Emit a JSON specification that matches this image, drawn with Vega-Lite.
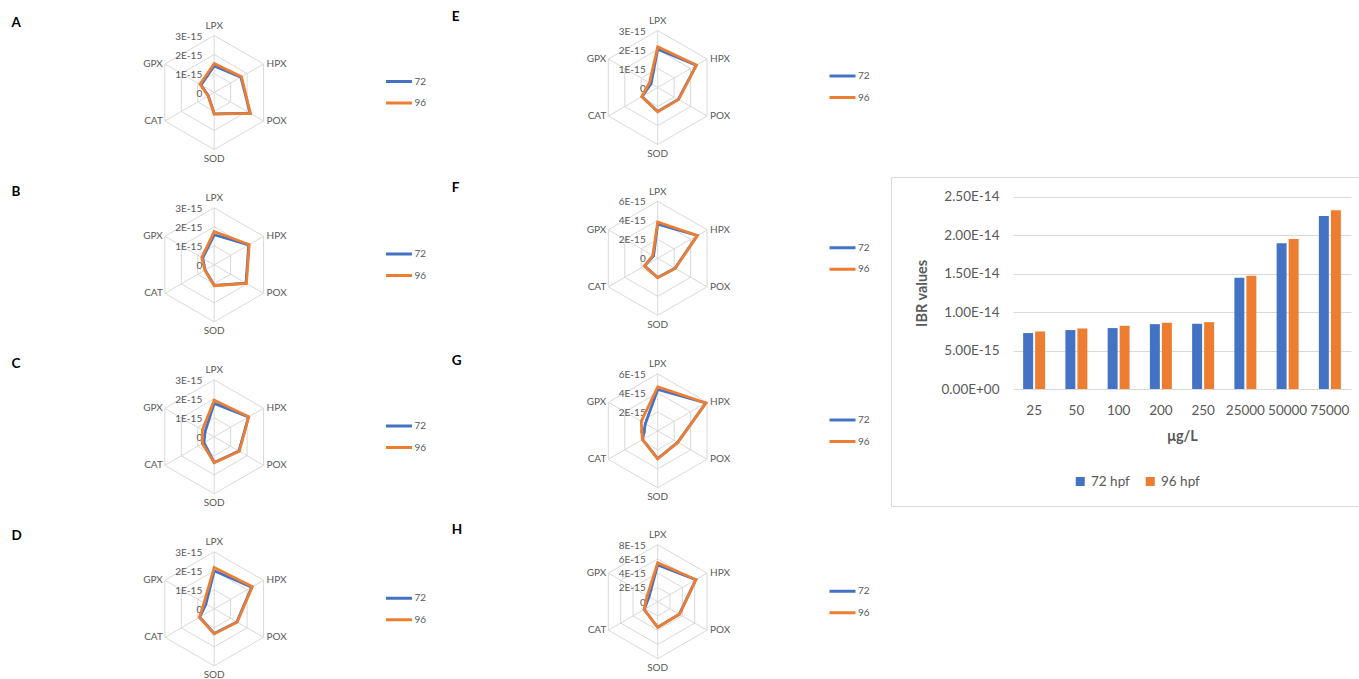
{
"$schema": "https://vega.github.io/schema/vega-lite/v6.json",
"padding": 0,
"background": "white",
"config": {"view": {"stroke": null}, "font": "Lato"},
"datasets": {
"grid": [
{"panel":"A","ring":[0,1e-15,2e-15,3e-15],"enzyme":["LPX","HPX","POX","SOD","CAT","GPX"]},
{"panel":"B","ring":[0,1e-15,2e-15,3e-15],"enzyme":["LPX","HPX","POX","SOD","CAT","GPX"]},
{"panel":"C","ring":[0,1e-15,2e-15,3e-15],"enzyme":["LPX","HPX","POX","SOD","CAT","GPX"]},
{"panel":"D","ring":[0,1e-15,2e-15,3e-15],"enzyme":["LPX","HPX","POX","SOD","CAT","GPX"]},
{"panel":"E","ring":[0,1e-15,2e-15,3e-15],"enzyme":["LPX","HPX","POX","SOD","CAT","GPX"]},
{"panel":"F","ring":[0,2e-15,4e-15,6e-15],"enzyme":["LPX","HPX","POX","SOD","CAT","GPX"]},
{"panel":"G","ring":[0,2e-15,4e-15,6e-15],"enzyme":["LPX","HPX","POX","SOD","CAT","GPX"]},
{"panel":"H","ring":[0,2e-15,4e-15,6e-15,8e-15],"enzyme":["LPX","HPX","POX","SOD","CAT","GPX"]}
],
"radar": [
{"panel":"A","series":"72","enzyme":"LPX","value":1.40e-15},{"panel":"A","series":"72","enzyme":"HPX","value":1.62e-15},{"panel":"A","series":"72","enzyme":"POX","value":2.18e-15},{"panel":"A","series":"72","enzyme":"SOD","value":1.12e-15},{"panel":"A","series":"72","enzyme":"CAT","value":0.35e-15},{"panel":"A","series":"72","enzyme":"GPX","value":0.80e-15},
{"panel":"A","series":"96","enzyme":"LPX","value":1.53e-15},{"panel":"A","series":"96","enzyme":"HPX","value":1.66e-15},{"panel":"A","series":"96","enzyme":"POX","value":2.20e-15},{"panel":"A","series":"96","enzyme":"SOD","value":1.14e-15},{"panel":"A","series":"96","enzyme":"CAT","value":0.37e-15},{"panel":"A","series":"96","enzyme":"GPX","value":0.86e-15},
{"panel":"B","series":"72","enzyme":"LPX","value":1.58e-15},{"panel":"B","series":"72","enzyme":"HPX","value":2.10e-15},{"panel":"B","series":"72","enzyme":"POX","value":1.93e-15},{"panel":"B","series":"72","enzyme":"SOD","value":1.08e-15},{"panel":"B","series":"72","enzyme":"CAT","value":0.55e-15},{"panel":"B","series":"72","enzyme":"GPX","value":0.70e-15},
{"panel":"B","series":"96","enzyme":"LPX","value":1.75e-15},{"panel":"B","series":"96","enzyme":"HPX","value":2.13e-15},{"panel":"B","series":"96","enzyme":"POX","value":1.96e-15},{"panel":"B","series":"96","enzyme":"SOD","value":1.10e-15},{"panel":"B","series":"96","enzyme":"CAT","value":0.57e-15},{"panel":"B","series":"96","enzyme":"GPX","value":0.76e-15},
{"panel":"C","series":"72","enzyme":"LPX","value":1.76e-15},{"panel":"C","series":"72","enzyme":"HPX","value":2.08e-15},{"panel":"C","series":"72","enzyme":"POX","value":1.50e-15},{"panel":"C","series":"72","enzyme":"SOD","value":1.35e-15},{"panel":"C","series":"72","enzyme":"CAT","value":0.62e-15},{"panel":"C","series":"72","enzyme":"GPX","value":0.55e-15},
{"panel":"C","series":"96","enzyme":"LPX","value":1.93e-15},{"panel":"C","series":"96","enzyme":"HPX","value":2.10e-15},{"panel":"C","series":"96","enzyme":"POX","value":1.53e-15},{"panel":"C","series":"96","enzyme":"SOD","value":1.37e-15},{"panel":"C","series":"96","enzyme":"CAT","value":0.72e-15},{"panel":"C","series":"96","enzyme":"GPX","value":0.72e-15},
{"panel":"D","series":"72","enzyme":"LPX","value":2.00e-15},{"panel":"D","series":"72","enzyme":"HPX","value":2.28e-15},{"panel":"D","series":"72","enzyme":"POX","value":1.38e-15},{"panel":"D","series":"72","enzyme":"SOD","value":1.30e-15},{"panel":"D","series":"72","enzyme":"CAT","value":0.88e-15},{"panel":"D","series":"72","enzyme":"GPX","value":0.50e-15},
{"panel":"D","series":"96","enzyme":"LPX","value":2.18e-15},{"panel":"D","series":"96","enzyme":"HPX","value":2.32e-15},{"panel":"D","series":"96","enzyme":"POX","value":1.40e-15},{"panel":"D","series":"96","enzyme":"SOD","value":1.32e-15},{"panel":"D","series":"96","enzyme":"CAT","value":0.90e-15},{"panel":"D","series":"96","enzyme":"GPX","value":0.62e-15},
{"panel":"E","series":"72","enzyme":"LPX","value":2.02e-15},{"panel":"E","series":"72","enzyme":"HPX","value":2.34e-15},{"panel":"E","series":"72","enzyme":"POX","value":1.25e-15},{"panel":"E","series":"72","enzyme":"SOD","value":1.26e-15},{"panel":"E","series":"72","enzyme":"CAT","value":0.95e-15},{"panel":"E","series":"72","enzyme":"GPX","value":0.40e-15},
{"panel":"E","series":"96","enzyme":"LPX","value":2.14e-15},{"panel":"E","series":"96","enzyme":"HPX","value":2.36e-15},{"panel":"E","series":"96","enzyme":"POX","value":1.27e-15},{"panel":"E","series":"96","enzyme":"SOD","value":1.28e-15},{"panel":"E","series":"96","enzyme":"CAT","value":0.97e-15},{"panel":"E","series":"96","enzyme":"GPX","value":0.50e-15},
{"panel":"F","series":"72","enzyme":"LPX","value":3.60e-15},{"panel":"F","series":"72","enzyme":"HPX","value":4.80e-15},{"panel":"F","series":"72","enzyme":"POX","value":2.10e-15},{"panel":"F","series":"72","enzyme":"SOD","value":2.02e-15},{"panel":"F","series":"72","enzyme":"CAT","value":1.60e-15},{"panel":"F","series":"72","enzyme":"GPX","value":0.50e-15},
{"panel":"F","series":"96","enzyme":"LPX","value":3.82e-15},{"panel":"F","series":"96","enzyme":"HPX","value":4.83e-15},{"panel":"F","series":"96","enzyme":"POX","value":2.13e-15},{"panel":"F","series":"96","enzyme":"SOD","value":2.04e-15},{"panel":"F","series":"96","enzyme":"CAT","value":1.62e-15},{"panel":"F","series":"96","enzyme":"GPX","value":0.60e-15},
{"panel":"G","series":"72","enzyme":"LPX","value":4.35e-15},{"panel":"G","series":"72","enzyme":"HPX","value":5.85e-15},{"panel":"G","series":"72","enzyme":"POX","value":2.42e-15},{"panel":"G","series":"72","enzyme":"SOD","value":2.93e-15},{"panel":"G","series":"72","enzyme":"CAT","value":1.83e-15},{"panel":"G","series":"72","enzyme":"GPX","value":1.50e-15},
{"panel":"G","series":"96","enzyme":"LPX","value":4.63e-15},{"panel":"G","series":"96","enzyme":"HPX","value":5.87e-15},{"panel":"G","series":"96","enzyme":"POX","value":2.45e-15},{"panel":"G","series":"96","enzyme":"SOD","value":2.95e-15},{"panel":"G","series":"96","enzyme":"CAT","value":1.86e-15},{"panel":"G","series":"96","enzyme":"GPX","value":2.00e-15},
{"panel":"H","series":"72","enzyme":"LPX","value":5.15e-15},{"panel":"H","series":"72","enzyme":"HPX","value":6.18e-15},{"panel":"H","series":"72","enzyme":"POX","value":3.50e-15},{"panel":"H","series":"72","enzyme":"SOD","value":3.58e-15},{"panel":"H","series":"72","enzyme":"CAT","value":2.18e-15},{"panel":"H","series":"72","enzyme":"GPX","value":1.40e-15},
{"panel":"H","series":"96","enzyme":"LPX","value":5.47e-15},{"panel":"H","series":"96","enzyme":"HPX","value":6.20e-15},{"panel":"H","series":"96","enzyme":"POX","value":3.53e-15},{"panel":"H","series":"96","enzyme":"SOD","value":3.60e-15},{"panel":"H","series":"96","enzyme":"CAT","value":2.20e-15},{"panel":"H","series":"96","enzyme":"GPX","value":1.70e-15}
],
"bars": [
{"conc":"25","series":"72 hpf","value":7.27e-15},{"conc":"25","series":"96 hpf","value":7.48e-15},
{"conc":"50","series":"72 hpf","value":7.66e-15},{"conc":"50","series":"96 hpf","value":7.87e-15},
{"conc":"100","series":"72 hpf","value":7.92e-15},{"conc":"100","series":"96 hpf","value":8.22e-15},
{"conc":"200","series":"72 hpf","value":8.43e-15},{"conc":"200","series":"96 hpf","value":8.61e-15},
{"conc":"250","series":"72 hpf","value":8.48e-15},{"conc":"250","series":"96 hpf","value":8.69e-15},
{"conc":"25000","series":"72 hpf","value":1.445e-14},{"conc":"25000","series":"96 hpf","value":1.471e-14},
{"conc":"50000","series":"72 hpf","value":1.894e-14},{"conc":"50000","series":"96 hpf","value":1.951e-14},
{"conc":"75000","series":"72 hpf","value":2.249e-14},{"conc":"75000","series":"96 hpf","value":2.323e-14}
]
},
"spacing": 0,
"resolve": {"scale": {"color": "independent", "x": "independent", "y": "independent"}, "legend": {"color": "independent"}},
"hconcat": [
{
"vconcat": [
{
"width": 444, "height": 172,
"title": {"text": "A", "anchor": "start", "frame": "group", "offset": 0, "dx": 11.5, "dy": 40.5, "baseline": "alphabetic", "fontSize": 13.5, "fontWeight": "bold", "color": "#000000"},
"data": {"name": "grid"},
"transform": [{"filter": "datum.panel=='A'"}, {"flatten": ["ring"]}, {"flatten": ["enzyme"]}, {"calculate": "indexof(['LPX','HPX','POX','SOD','CAT','GPX'],datum.enzyme)", "as": "k"}, {"calculate": "datum.ring*sin(datum.k*PI/3)", "as": "px"}, {"calculate": "datum.ring*cos(datum.k*PI/3)", "as": "py"}, {"calculate": "1.165*datum.px", "as": "lx"}, {"calculate": "1.165*datum.py", "as": "ly"}],
"encoding": {
"x": {"field": "px", "type": "quantitative", "scale": {"domain": [-3e-15, 3e-15], "range": [157.2, 271.2]}, "axis": null},
"y": {"field": "py", "type": "quantitative", "scale": {"domain": [-3e-15, 3e-15], "range": [149.5, 35.5]}, "axis": null}
},
"layer": [
{"mark": {"type": "line", "interpolate": "linear-closed", "stroke": "#d9d9d9", "strokeWidth": 1}, "encoding": {"detail": {"field": "ring", "type": "quantitative"}, "order": {"field": "k", "type": "quantitative"}}},
{"transform": [{"filter": "datum.ring==3e-15"}], "mark": {"type": "rule", "stroke": "#d9d9d9", "strokeWidth": 1}, "encoding": {"x2": {"datum": 0}, "y2": {"datum": 0}}},
{"transform": [{"filter": "datum.enzyme=='LPX'"}, {"calculate": "datum.ring==0?'0':replace(format(datum.ring,'.0e'),'e','E')", "as": "lab"}], "mark": {"type": "text", "align": "right", "baseline": "middle", "dx": -12, "dy": 1, "fontSize": 10, "color": "#595959"}, "encoding": {"text": {"field": "lab"}}},
{"transform": [{"filter": "datum.ring==3e-15 && (datum.enzyme=='LPX'||datum.enzyme=='SOD')"}], "mark": {"type": "text", "align": "center", "baseline": "middle", "fontSize": 10, "color": "#595959"}, "encoding": {"x": {"field": "lx", "type": "quantitative"}, "y": {"field": "ly", "type": "quantitative"}, "text": {"field": "enzyme"}}},
{"transform": [{"filter": "datum.ring==3e-15 && (datum.enzyme=='HPX'||datum.enzyme=='POX')"}], "mark": {"type": "text", "align": "left", "baseline": "middle", "dx": 3, "fontSize": 10, "color": "#595959"}, "encoding": {"text": {"field": "enzyme"}}},
{"transform": [{"filter": "datum.ring==3e-15 && (datum.enzyme=='CAT'||datum.enzyme=='GPX')"}], "mark": {"type": "text", "align": "right", "baseline": "middle", "dx": -2, "fontSize": 10, "color": "#595959"}, "encoding": {"text": {"field": "enzyme"}}},
{"data": {"name": "radar"}, "transform": [{"filter": "datum.panel=='A'"}, {"calculate": "indexof(['LPX','HPX','POX','SOD','CAT','GPX'],datum.enzyme)", "as": "k"}, {"calculate": "datum.value*sin(datum.k*PI/3)", "as": "px"}, {"calculate": "datum.value*cos(datum.k*PI/3)", "as": "py"}],
"mark": {"type": "line", "interpolate": "linear-closed", "strokeWidth": 2.75},
"encoding": {"order": {"field": "k", "type": "quantitative"}, "color": {"field": "series", "type": "nominal", "scale": {"domain": ["72", "96"], "range": ["#4472C4", "#ED7D31"]}, "legend": {"title": null, "orient": "none", "legendX": 384.5, "legendY": 75.5, "symbolType": "stroke", "symbolSize": 676, "symbolStrokeWidth": 3, "clipHeight": 12, "rowPadding": 9.5, "labelOffset": 1, "labelFontSize": 10, "labelColor": "#595959"}}}}
]
},
{
"width": 444, "height": 172,
"title": {"text": "B", "anchor": "start", "frame": "group", "offset": 0, "dx": 11.5, "dy": 37.5, "baseline": "alphabetic", "fontSize": 13.5, "fontWeight": "bold", "color": "#000000"},
"data": {"name": "grid"},
"transform": [{"filter": "datum.panel=='B'"}, {"flatten": ["ring"]}, {"flatten": ["enzyme"]}, {"calculate": "indexof(['LPX','HPX','POX','SOD','CAT','GPX'],datum.enzyme)", "as": "k"}, {"calculate": "datum.ring*sin(datum.k*PI/3)", "as": "px"}, {"calculate": "datum.ring*cos(datum.k*PI/3)", "as": "py"}, {"calculate": "1.165*datum.px", "as": "lx"}, {"calculate": "1.165*datum.py", "as": "ly"}],
"encoding": {
"x": {"field": "px", "type": "quantitative", "scale": {"domain": [-3e-15, 3e-15], "range": [157.2, 271.2]}, "axis": null},
"y": {"field": "py", "type": "quantitative", "scale": {"domain": [-3e-15, 3e-15], "range": [149.8, 35.8]}, "axis": null}
},
"layer": [
{"mark": {"type": "line", "interpolate": "linear-closed", "stroke": "#d9d9d9", "strokeWidth": 1}, "encoding": {"detail": {"field": "ring", "type": "quantitative"}, "order": {"field": "k", "type": "quantitative"}}},
{"transform": [{"filter": "datum.ring==3e-15"}], "mark": {"type": "rule", "stroke": "#d9d9d9", "strokeWidth": 1}, "encoding": {"x2": {"datum": 0}, "y2": {"datum": 0}}},
{"transform": [{"filter": "datum.enzyme=='LPX'"}, {"calculate": "datum.ring==0?'0':replace(format(datum.ring,'.0e'),'e','E')", "as": "lab"}], "mark": {"type": "text", "align": "right", "baseline": "middle", "dx": -12, "dy": 1, "fontSize": 10, "color": "#595959"}, "encoding": {"text": {"field": "lab"}}},
{"transform": [{"filter": "datum.ring==3e-15 && (datum.enzyme=='LPX'||datum.enzyme=='SOD')"}], "mark": {"type": "text", "align": "center", "baseline": "middle", "fontSize": 10, "color": "#595959"}, "encoding": {"x": {"field": "lx", "type": "quantitative"}, "y": {"field": "ly", "type": "quantitative"}, "text": {"field": "enzyme"}}},
{"transform": [{"filter": "datum.ring==3e-15 && (datum.enzyme=='HPX'||datum.enzyme=='POX')"}], "mark": {"type": "text", "align": "left", "baseline": "middle", "dx": 3, "fontSize": 10, "color": "#595959"}, "encoding": {"text": {"field": "enzyme"}}},
{"transform": [{"filter": "datum.ring==3e-15 && (datum.enzyme=='CAT'||datum.enzyme=='GPX')"}], "mark": {"type": "text", "align": "right", "baseline": "middle", "dx": -2, "fontSize": 10, "color": "#595959"}, "encoding": {"text": {"field": "enzyme"}}},
{"data": {"name": "radar"}, "transform": [{"filter": "datum.panel=='B'"}, {"calculate": "indexof(['LPX','HPX','POX','SOD','CAT','GPX'],datum.enzyme)", "as": "k"}, {"calculate": "datum.value*sin(datum.k*PI/3)", "as": "px"}, {"calculate": "datum.value*cos(datum.k*PI/3)", "as": "py"}],
"mark": {"type": "line", "interpolate": "linear-closed", "strokeWidth": 2.75},
"encoding": {"order": {"field": "k", "type": "quantitative"}, "color": {"field": "series", "type": "nominal", "scale": {"domain": ["72", "96"], "range": ["#4472C4", "#ED7D31"]}, "legend": {"title": null, "orient": "none", "legendX": 384.5, "legendY": 76, "symbolType": "stroke", "symbolSize": 676, "symbolStrokeWidth": 3, "clipHeight": 12, "rowPadding": 9.5, "labelOffset": 1, "labelFontSize": 10, "labelColor": "#595959"}}}}
]
},
{
"width": 444, "height": 172,
"title": {"text": "C", "anchor": "start", "frame": "group", "offset": 0, "dx": 11.5, "dy": 37, "baseline": "alphabetic", "fontSize": 13.5, "fontWeight": "bold", "color": "#000000"},
"data": {"name": "grid"},
"transform": [{"filter": "datum.panel=='C'"}, {"flatten": ["ring"]}, {"flatten": ["enzyme"]}, {"calculate": "indexof(['LPX','HPX','POX','SOD','CAT','GPX'],datum.enzyme)", "as": "k"}, {"calculate": "datum.ring*sin(datum.k*PI/3)", "as": "px"}, {"calculate": "datum.ring*cos(datum.k*PI/3)", "as": "py"}, {"calculate": "1.165*datum.px", "as": "lx"}, {"calculate": "1.165*datum.py", "as": "ly"}],
"encoding": {
"x": {"field": "px", "type": "quantitative", "scale": {"domain": [-3e-15, 3e-15], "range": [157.2, 271.2]}, "axis": null},
"y": {"field": "py", "type": "quantitative", "scale": {"domain": [-3e-15, 3e-15], "range": [149.8, 35.8]}, "axis": null}
},
"layer": [
{"mark": {"type": "line", "interpolate": "linear-closed", "stroke": "#d9d9d9", "strokeWidth": 1}, "encoding": {"detail": {"field": "ring", "type": "quantitative"}, "order": {"field": "k", "type": "quantitative"}}},
{"transform": [{"filter": "datum.ring==3e-15"}], "mark": {"type": "rule", "stroke": "#d9d9d9", "strokeWidth": 1}, "encoding": {"x2": {"datum": 0}, "y2": {"datum": 0}}},
{"transform": [{"filter": "datum.enzyme=='LPX'"}, {"calculate": "datum.ring==0?'0':replace(format(datum.ring,'.0e'),'e','E')", "as": "lab"}], "mark": {"type": "text", "align": "right", "baseline": "middle", "dx": -12, "dy": 1, "fontSize": 10, "color": "#595959"}, "encoding": {"text": {"field": "lab"}}},
{"transform": [{"filter": "datum.ring==3e-15 && (datum.enzyme=='LPX'||datum.enzyme=='SOD')"}], "mark": {"type": "text", "align": "center", "baseline": "middle", "fontSize": 10, "color": "#595959"}, "encoding": {"x": {"field": "lx", "type": "quantitative"}, "y": {"field": "ly", "type": "quantitative"}, "text": {"field": "enzyme"}}},
{"transform": [{"filter": "datum.ring==3e-15 && (datum.enzyme=='HPX'||datum.enzyme=='POX')"}], "mark": {"type": "text", "align": "left", "baseline": "middle", "dx": 3, "fontSize": 10, "color": "#595959"}, "encoding": {"text": {"field": "enzyme"}}},
{"transform": [{"filter": "datum.ring==3e-15 && (datum.enzyme=='CAT'||datum.enzyme=='GPX')"}], "mark": {"type": "text", "align": "right", "baseline": "middle", "dx": -2, "fontSize": 10, "color": "#595959"}, "encoding": {"text": {"field": "enzyme"}}},
{"data": {"name": "radar"}, "transform": [{"filter": "datum.panel=='C'"}, {"calculate": "indexof(['LPX','HPX','POX','SOD','CAT','GPX'],datum.enzyme)", "as": "k"}, {"calculate": "datum.value*sin(datum.k*PI/3)", "as": "px"}, {"calculate": "datum.value*cos(datum.k*PI/3)", "as": "py"}],
"mark": {"type": "line", "interpolate": "linear-closed", "strokeWidth": 2.75},
"encoding": {"order": {"field": "k", "type": "quantitative"}, "color": {"field": "series", "type": "nominal", "scale": {"domain": ["72", "96"], "range": ["#4472C4", "#ED7D31"]}, "legend": {"title": null, "orient": "none", "legendX": 384.5, "legendY": 76, "symbolType": "stroke", "symbolSize": 676, "symbolStrokeWidth": 3, "clipHeight": 12, "rowPadding": 9.5, "labelOffset": 1, "labelFontSize": 10, "labelColor": "#595959"}}}}
]
},
{
"width": 444, "height": 163,
"title": {"text": "D", "anchor": "start", "frame": "group", "offset": 0, "dx": 11.5, "dy": 37.2, "baseline": "alphabetic", "fontSize": 13.5, "fontWeight": "bold", "color": "#000000"},
"data": {"name": "grid"},
"transform": [{"filter": "datum.panel=='D'"}, {"flatten": ["ring"]}, {"flatten": ["enzyme"]}, {"calculate": "indexof(['LPX','HPX','POX','SOD','CAT','GPX'],datum.enzyme)", "as": "k"}, {"calculate": "datum.ring*sin(datum.k*PI/3)", "as": "px"}, {"calculate": "datum.ring*cos(datum.k*PI/3)", "as": "py"}, {"calculate": "1.165*datum.px", "as": "lx"}, {"calculate": "1.165*datum.py", "as": "ly"}],
"encoding": {
"x": {"field": "px", "type": "quantitative", "scale": {"domain": [-3e-15, 3e-15], "range": [157.2, 271.2]}, "axis": null},
"y": {"field": "py", "type": "quantitative", "scale": {"domain": [-3e-15, 3e-15], "range": [149.8, 35.8]}, "axis": null}
},
"layer": [
{"mark": {"type": "line", "interpolate": "linear-closed", "stroke": "#d9d9d9", "strokeWidth": 1}, "encoding": {"detail": {"field": "ring", "type": "quantitative"}, "order": {"field": "k", "type": "quantitative"}}},
{"transform": [{"filter": "datum.ring==3e-15"}], "mark": {"type": "rule", "stroke": "#d9d9d9", "strokeWidth": 1}, "encoding": {"x2": {"datum": 0}, "y2": {"datum": 0}}},
{"transform": [{"filter": "datum.enzyme=='LPX'"}, {"calculate": "datum.ring==0?'0':replace(format(datum.ring,'.0e'),'e','E')", "as": "lab"}], "mark": {"type": "text", "align": "right", "baseline": "middle", "dx": -12, "dy": 1, "fontSize": 10, "color": "#595959"}, "encoding": {"text": {"field": "lab"}}},
{"transform": [{"filter": "datum.ring==3e-15 && (datum.enzyme=='LPX'||datum.enzyme=='SOD')"}], "mark": {"type": "text", "align": "center", "baseline": "middle", "fontSize": 10, "color": "#595959"}, "encoding": {"x": {"field": "lx", "type": "quantitative"}, "y": {"field": "ly", "type": "quantitative"}, "text": {"field": "enzyme"}}},
{"transform": [{"filter": "datum.ring==3e-15 && (datum.enzyme=='HPX'||datum.enzyme=='POX')"}], "mark": {"type": "text", "align": "left", "baseline": "middle", "dx": 3, "fontSize": 10, "color": "#595959"}, "encoding": {"text": {"field": "enzyme"}}},
{"transform": [{"filter": "datum.ring==3e-15 && (datum.enzyme=='CAT'||datum.enzyme=='GPX')"}], "mark": {"type": "text", "align": "right", "baseline": "middle", "dx": -2, "fontSize": 10, "color": "#595959"}, "encoding": {"text": {"field": "enzyme"}}},
{"data": {"name": "radar"}, "transform": [{"filter": "datum.panel=='D'"}, {"calculate": "indexof(['LPX','HPX','POX','SOD','CAT','GPX'],datum.enzyme)", "as": "k"}, {"calculate": "datum.value*sin(datum.k*PI/3)", "as": "px"}, {"calculate": "datum.value*cos(datum.k*PI/3)", "as": "py"}],
"mark": {"type": "line", "interpolate": "linear-closed", "strokeWidth": 2.75},
"encoding": {"order": {"field": "k", "type": "quantitative"}, "color": {"field": "series", "type": "nominal", "scale": {"domain": ["72", "96"], "range": ["#4472C4", "#ED7D31"]}, "legend": {"title": null, "orient": "none", "legendX": 384.5, "legendY": 76.3, "symbolType": "stroke", "symbolSize": 676, "symbolStrokeWidth": 3, "clipHeight": 12, "rowPadding": 9.5, "labelOffset": 1, "labelFontSize": 10, "labelColor": "#595959"}}}}
]
}
],
"spacing": 0,
"bounds": "flush",
"resolve": {"scale": {"color": "independent", "x": "independent", "y": "independent"}, "legend": {"color": "independent"}}
},
{
"vconcat": [
{
"width": 446, "height": 172,
"title": {"text": "E", "anchor": "start", "frame": "group", "offset": 0, "dx": 7.7, "dy": 34.2, "baseline": "alphabetic", "fontSize": 13.5, "fontWeight": "bold", "color": "#000000"},
"data": {"name": "grid"},
"transform": [{"filter": "datum.panel=='E'"}, {"flatten": ["ring"]}, {"flatten": ["enzyme"]}, {"calculate": "indexof(['LPX','HPX','POX','SOD','CAT','GPX'],datum.enzyme)", "as": "k"}, {"calculate": "datum.ring*sin(datum.k*PI/3)", "as": "px"}, {"calculate": "datum.ring*cos(datum.k*PI/3)", "as": "py"}, {"calculate": "1.165*datum.px", "as": "lx"}, {"calculate": "1.165*datum.py", "as": "ly"}],
"encoding": {
"x": {"field": "px", "type": "quantitative", "scale": {"domain": [-3e-15, 3e-15], "range": [156.7, 270.7]}, "axis": null},
"y": {"field": "py", "type": "quantitative", "scale": {"domain": [-3e-15, 3e-15], "range": [144.5, 30.5]}, "axis": null}
},
"layer": [
{"mark": {"type": "line", "interpolate": "linear-closed", "stroke": "#d9d9d9", "strokeWidth": 1}, "encoding": {"detail": {"field": "ring", "type": "quantitative"}, "order": {"field": "k", "type": "quantitative"}}},
{"transform": [{"filter": "datum.ring==3e-15"}], "mark": {"type": "rule", "stroke": "#d9d9d9", "strokeWidth": 1}, "encoding": {"x2": {"datum": 0}, "y2": {"datum": 0}}},
{"transform": [{"filter": "datum.enzyme=='LPX'"}, {"calculate": "datum.ring==0?'0':replace(format(datum.ring,'.0e'),'e','E')", "as": "lab"}], "mark": {"type": "text", "align": "right", "baseline": "middle", "dx": -12, "dy": 1, "fontSize": 10, "color": "#595959"}, "encoding": {"text": {"field": "lab"}}},
{"transform": [{"filter": "datum.ring==3e-15 && (datum.enzyme=='LPX'||datum.enzyme=='SOD')"}], "mark": {"type": "text", "align": "center", "baseline": "middle", "fontSize": 10, "color": "#595959"}, "encoding": {"x": {"field": "lx", "type": "quantitative"}, "y": {"field": "ly", "type": "quantitative"}, "text": {"field": "enzyme"}}},
{"transform": [{"filter": "datum.ring==3e-15 && (datum.enzyme=='HPX'||datum.enzyme=='POX')"}], "mark": {"type": "text", "align": "left", "baseline": "middle", "dx": 3, "fontSize": 10, "color": "#595959"}, "encoding": {"text": {"field": "enzyme"}}},
{"transform": [{"filter": "datum.ring==3e-15 && (datum.enzyme=='CAT'||datum.enzyme=='GPX')"}], "mark": {"type": "text", "align": "right", "baseline": "middle", "dx": -2, "fontSize": 10, "color": "#595959"}, "encoding": {"text": {"field": "enzyme"}}},
{"data": {"name": "radar"}, "transform": [{"filter": "datum.panel=='E'"}, {"calculate": "indexof(['LPX','HPX','POX','SOD','CAT','GPX'],datum.enzyme)", "as": "k"}, {"calculate": "datum.value*sin(datum.k*PI/3)", "as": "px"}, {"calculate": "datum.value*cos(datum.k*PI/3)", "as": "py"}],
"mark": {"type": "line", "interpolate": "linear-closed", "strokeWidth": 2.75},
"encoding": {"order": {"field": "k", "type": "quantitative"}, "color": {"field": "series", "type": "nominal", "scale": {"domain": ["72", "96"], "range": ["#4472C4", "#ED7D31"]}, "legend": {"title": null, "orient": "none", "legendX": 384, "legendY": 70, "symbolType": "stroke", "symbolSize": 676, "symbolStrokeWidth": 3, "clipHeight": 12, "rowPadding": 9.5, "labelOffset": 1, "labelFontSize": 10, "labelColor": "#595959"}}}}
]
},
{
"width": 446, "height": 172,
"title": {"text": "F", "anchor": "start", "frame": "group", "offset": 0, "dx": 7.7, "dy": 33.2, "baseline": "alphabetic", "fontSize": 13.5, "fontWeight": "bold", "color": "#000000"},
"data": {"name": "grid"},
"transform": [{"filter": "datum.panel=='F'"}, {"flatten": ["ring"]}, {"flatten": ["enzyme"]}, {"calculate": "indexof(['LPX','HPX','POX','SOD','CAT','GPX'],datum.enzyme)", "as": "k"}, {"calculate": "datum.ring*sin(datum.k*PI/3)", "as": "px"}, {"calculate": "datum.ring*cos(datum.k*PI/3)", "as": "py"}, {"calculate": "1.165*datum.px", "as": "lx"}, {"calculate": "1.165*datum.py", "as": "ly"}],
"encoding": {
"x": {"field": "px", "type": "quantitative", "scale": {"domain": [-6e-15, 6e-15], "range": [156.7, 270.7]}, "axis": null},
"y": {"field": "py", "type": "quantitative", "scale": {"domain": [-6e-15, 6e-15], "range": [143.3, 29.3]}, "axis": null}
},
"layer": [
{"mark": {"type": "line", "interpolate": "linear-closed", "stroke": "#d9d9d9", "strokeWidth": 1}, "encoding": {"detail": {"field": "ring", "type": "quantitative"}, "order": {"field": "k", "type": "quantitative"}}},
{"transform": [{"filter": "datum.ring==6e-15"}], "mark": {"type": "rule", "stroke": "#d9d9d9", "strokeWidth": 1}, "encoding": {"x2": {"datum": 0}, "y2": {"datum": 0}}},
{"transform": [{"filter": "datum.enzyme=='LPX'"}, {"calculate": "datum.ring==0?'0':replace(format(datum.ring,'.0e'),'e','E')", "as": "lab"}], "mark": {"type": "text", "align": "right", "baseline": "middle", "dx": -12, "dy": 1, "fontSize": 10, "color": "#595959"}, "encoding": {"text": {"field": "lab"}}},
{"transform": [{"filter": "datum.ring==6e-15 && (datum.enzyme=='LPX'||datum.enzyme=='SOD')"}], "mark": {"type": "text", "align": "center", "baseline": "middle", "fontSize": 10, "color": "#595959"}, "encoding": {"x": {"field": "lx", "type": "quantitative"}, "y": {"field": "ly", "type": "quantitative"}, "text": {"field": "enzyme"}}},
{"transform": [{"filter": "datum.ring==6e-15 && (datum.enzyme=='HPX'||datum.enzyme=='POX')"}], "mark": {"type": "text", "align": "left", "baseline": "middle", "dx": 3, "fontSize": 10, "color": "#595959"}, "encoding": {"text": {"field": "enzyme"}}},
{"transform": [{"filter": "datum.ring==6e-15 && (datum.enzyme=='CAT'||datum.enzyme=='GPX')"}], "mark": {"type": "text", "align": "right", "baseline": "middle", "dx": -2, "fontSize": 10, "color": "#595959"}, "encoding": {"text": {"field": "enzyme"}}},
{"data": {"name": "radar"}, "transform": [{"filter": "datum.panel=='F'"}, {"calculate": "indexof(['LPX','HPX','POX','SOD','CAT','GPX'],datum.enzyme)", "as": "k"}, {"calculate": "datum.value*sin(datum.k*PI/3)", "as": "px"}, {"calculate": "datum.value*cos(datum.k*PI/3)", "as": "py"}],
"mark": {"type": "line", "interpolate": "linear-closed", "strokeWidth": 2.75},
"encoding": {"order": {"field": "k", "type": "quantitative"}, "color": {"field": "series", "type": "nominal", "scale": {"domain": ["72", "96"], "range": ["#4472C4", "#ED7D31"]}, "legend": {"title": null, "orient": "none", "legendX": 384, "legendY": 69.7, "symbolType": "stroke", "symbolSize": 676, "symbolStrokeWidth": 3, "clipHeight": 12, "rowPadding": 9.5, "labelOffset": 1, "labelFontSize": 10, "labelColor": "#595959"}}}}
]
},
{
"width": 446, "height": 172,
"title": {"text": "G", "anchor": "start", "frame": "group", "offset": 0, "dx": 7.7, "dy": 34.5, "baseline": "alphabetic", "fontSize": 13.5, "fontWeight": "bold", "color": "#000000"},
"data": {"name": "grid"},
"transform": [{"filter": "datum.panel=='G'"}, {"flatten": ["ring"]}, {"flatten": ["enzyme"]}, {"calculate": "indexof(['LPX','HPX','POX','SOD','CAT','GPX'],datum.enzyme)", "as": "k"}, {"calculate": "datum.ring*sin(datum.k*PI/3)", "as": "px"}, {"calculate": "datum.ring*cos(datum.k*PI/3)", "as": "py"}, {"calculate": "1.165*datum.px", "as": "lx"}, {"calculate": "1.165*datum.py", "as": "ly"}],
"encoding": {
"x": {"field": "px", "type": "quantitative", "scale": {"domain": [-6e-15, 6e-15], "range": [156.7, 270.7]}, "axis": null},
"y": {"field": "py", "type": "quantitative", "scale": {"domain": [-6e-15, 6e-15], "range": [143.8, 29.8]}, "axis": null}
},
"layer": [
{"mark": {"type": "line", "interpolate": "linear-closed", "stroke": "#d9d9d9", "strokeWidth": 1}, "encoding": {"detail": {"field": "ring", "type": "quantitative"}, "order": {"field": "k", "type": "quantitative"}}},
{"transform": [{"filter": "datum.ring==6e-15"}], "mark": {"type": "rule", "stroke": "#d9d9d9", "strokeWidth": 1}, "encoding": {"x2": {"datum": 0}, "y2": {"datum": 0}}},
{"transform": [{"filter": "datum.enzyme=='LPX'"}, {"calculate": "datum.ring==0?'0':replace(format(datum.ring,'.0e'),'e','E')", "as": "lab"}], "mark": {"type": "text", "align": "right", "baseline": "middle", "dx": -12, "dy": 1, "fontSize": 10, "color": "#595959"}, "encoding": {"text": {"field": "lab"}}},
{"transform": [{"filter": "datum.ring==6e-15 && (datum.enzyme=='LPX'||datum.enzyme=='SOD')"}], "mark": {"type": "text", "align": "center", "baseline": "middle", "fontSize": 10, "color": "#595959"}, "encoding": {"x": {"field": "lx", "type": "quantitative"}, "y": {"field": "ly", "type": "quantitative"}, "text": {"field": "enzyme"}}},
{"transform": [{"filter": "datum.ring==6e-15 && (datum.enzyme=='HPX'||datum.enzyme=='POX')"}], "mark": {"type": "text", "align": "left", "baseline": "middle", "dx": 3, "fontSize": 10, "color": "#595959"}, "encoding": {"text": {"field": "enzyme"}}},
{"transform": [{"filter": "datum.ring==6e-15 && (datum.enzyme=='CAT'||datum.enzyme=='GPX')"}], "mark": {"type": "text", "align": "right", "baseline": "middle", "dx": -2, "fontSize": 10, "color": "#595959"}, "encoding": {"text": {"field": "enzyme"}}},
{"data": {"name": "radar"}, "transform": [{"filter": "datum.panel=='G'"}, {"calculate": "indexof(['LPX','HPX','POX','SOD','CAT','GPX'],datum.enzyme)", "as": "k"}, {"calculate": "datum.value*sin(datum.k*PI/3)", "as": "px"}, {"calculate": "datum.value*cos(datum.k*PI/3)", "as": "py"}],
"mark": {"type": "line", "interpolate": "linear-closed", "strokeWidth": 2.75},
"encoding": {"order": {"field": "k", "type": "quantitative"}, "color": {"field": "series", "type": "nominal", "scale": {"domain": ["72", "96"], "range": ["#4472C4", "#ED7D31"]}, "legend": {"title": null, "orient": "none", "legendX": 384, "legendY": 70, "symbolType": "stroke", "symbolSize": 676, "symbolStrokeWidth": 3, "clipHeight": 12, "rowPadding": 9.5, "labelOffset": 1, "labelFontSize": 10, "labelColor": "#595959"}}}}
]
},
{
"width": 446, "height": 163,
"title": {"text": "H", "anchor": "start", "frame": "group", "offset": 0, "dx": 7.7, "dy": 31.5, "baseline": "alphabetic", "fontSize": 13.5, "fontWeight": "bold", "color": "#000000"},
"data": {"name": "grid"},
"transform": [{"filter": "datum.panel=='H'"}, {"flatten": ["ring"]}, {"flatten": ["enzyme"]}, {"calculate": "indexof(['LPX','HPX','POX','SOD','CAT','GPX'],datum.enzyme)", "as": "k"}, {"calculate": "datum.ring*sin(datum.k*PI/3)", "as": "px"}, {"calculate": "datum.ring*cos(datum.k*PI/3)", "as": "py"}, {"calculate": "1.165*datum.px", "as": "lx"}, {"calculate": "1.165*datum.py", "as": "ly"}],
"encoding": {
"x": {"field": "px", "type": "quantitative", "scale": {"domain": [-8e-15, 8e-15], "range": [156.7, 270.7]}, "axis": null},
"y": {"field": "py", "type": "quantitative", "scale": {"domain": [-8e-15, 8e-15], "range": [142.7, 28.7]}, "axis": null}
},
"layer": [
{"mark": {"type": "line", "interpolate": "linear-closed", "stroke": "#d9d9d9", "strokeWidth": 1}, "encoding": {"detail": {"field": "ring", "type": "quantitative"}, "order": {"field": "k", "type": "quantitative"}}},
{"transform": [{"filter": "datum.ring==8e-15"}], "mark": {"type": "rule", "stroke": "#d9d9d9", "strokeWidth": 1}, "encoding": {"x2": {"datum": 0}, "y2": {"datum": 0}}},
{"transform": [{"filter": "datum.enzyme=='LPX'"}, {"calculate": "datum.ring==0?'0':replace(format(datum.ring,'.0e'),'e','E')", "as": "lab"}], "mark": {"type": "text", "align": "right", "baseline": "middle", "dx": -12, "dy": 1, "fontSize": 10, "color": "#595959"}, "encoding": {"text": {"field": "lab"}}},
{"transform": [{"filter": "datum.ring==8e-15 && (datum.enzyme=='LPX'||datum.enzyme=='SOD')"}], "mark": {"type": "text", "align": "center", "baseline": "middle", "fontSize": 10, "color": "#595959"}, "encoding": {"x": {"field": "lx", "type": "quantitative"}, "y": {"field": "ly", "type": "quantitative"}, "text": {"field": "enzyme"}}},
{"transform": [{"filter": "datum.ring==8e-15 && (datum.enzyme=='HPX'||datum.enzyme=='POX')"}], "mark": {"type": "text", "align": "left", "baseline": "middle", "dx": 3, "fontSize": 10, "color": "#595959"}, "encoding": {"text": {"field": "enzyme"}}},
{"transform": [{"filter": "datum.ring==8e-15 && (datum.enzyme=='CAT'||datum.enzyme=='GPX')"}], "mark": {"type": "text", "align": "right", "baseline": "middle", "dx": -2, "fontSize": 10, "color": "#595959"}, "encoding": {"text": {"field": "enzyme"}}},
{"data": {"name": "radar"}, "transform": [{"filter": "datum.panel=='H'"}, {"calculate": "indexof(['LPX','HPX','POX','SOD','CAT','GPX'],datum.enzyme)", "as": "k"}, {"calculate": "datum.value*sin(datum.k*PI/3)", "as": "px"}, {"calculate": "datum.value*cos(datum.k*PI/3)", "as": "py"}],
"mark": {"type": "line", "interpolate": "linear-closed", "strokeWidth": 2.75},
"encoding": {"order": {"field": "k", "type": "quantitative"}, "color": {"field": "series", "type": "nominal", "scale": {"domain": ["72", "96"], "range": ["#4472C4", "#ED7D31"]}, "legend": {"title": null, "orient": "none", "legendX": 384, "legendY": 69.3, "symbolType": "stroke", "symbolSize": 676, "symbolStrokeWidth": 3, "clipHeight": 12, "rowPadding": 9.5, "labelOffset": 1, "labelFontSize": 10, "labelColor": "#595959"}}}}
]
}
],
"spacing": 0,
"bounds": "flush",
"resolve": {"scale": {"color": "independent", "x": "independent", "y": "independent"}, "legend": {"color": "independent"}}
},
{
"vconcat": [
{"width": 469, "height": 177, "data": {"values": []}, "mark": "point"},
{
"width": 469, "height": 329,
"view": {"stroke": "#d9d9d9", "strokeWidth": 1},
"data": {"name": "bars"},
"mark": {"type": "bar"},
"encoding": {
"x": {"field": "conc", "type": "nominal", "sort": ["25", "50", "100", "200", "250", "25000", "50000", "75000"], "scale": {"range": [122, 460], "paddingInner": 0.48, "paddingOuter": 0.24},
"axis": {"title": "μg/L", "offset": -117, "domain": false, "ticks": false, "grid": false, "labelAngle": 0, "labelPadding": 14, "labelFontSize": 13.5, "labelColor": "#595959", "titleFontSize": 14.5, "titleFontWeight": "bold", "titleColor": "#595959", "titlePadding": 13}},
"xOffset": {"field": "series", "type": "nominal", "scale": {"paddingInner": 0.17, "paddingOuter": 0}},
"y": {"field": "value", "type": "quantitative", "scale": {"domain": [0, 2.5e-14], "range": [212, 19.7], "nice": false},
"axis": {"title": "IBR values", "offset": -122, "values": [0, 5e-15, 1e-14, 1.5e-14, 2e-14, 2.5e-14], "labelExpr": "datum.value == 0 ? '0.00E+00' : replace(format(datum.value, '.2e'), 'e', 'E')", "domain": false, "ticks": false, "grid": true, "gridColor": "#d9d9d9", "labelPadding": 14, "labelFontSize": 13.5, "labelColor": "#595959", "titleFontSize": 14.5, "titleFontWeight": "bold", "titleColor": "#595959", "titlePadding": 12}},
"color": {"field": "series", "type": "nominal", "scale": {"domain": ["72 hpf", "96 hpf"], "range": ["#4472C4", "#ED7D31"]},
"legend": {"title": null, "orient": "none", "legendX": 182.5, "legendY": 297.5, "direction": "horizontal", "symbolType": "square", "symbolSize": 81, "clipHeight": 14, "columnPadding": 13, "labelOffset": 4, "labelFontSize": 13.5, "labelColor": "#595959"}}
}
}
],
"spacing": 0,
"bounds": "flush",
"resolve": {"scale": {"color": "independent", "x": "independent", "y": "independent"}, "legend": {"color": "independent"}}
}
]
}
